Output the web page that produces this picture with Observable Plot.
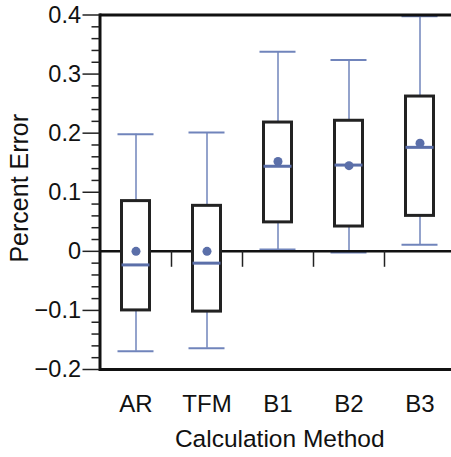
<!DOCTYPE html>
<html>
<head>
<meta charset="utf-8">
<script src="https://cdn.jsdelivr.net/npm/d3@7"></script>
<script src="https://cdn.jsdelivr.net/npm/@observablehq/plot@0.6"></script>
<style>
  html, body { margin: 0; padding: 0; background: #fff; }
  #chart { width: 451px; height: 457px; }
</style>
</head>
<body>
<div id="chart"></div>
<script>
// ---- data ----
const methods   = ["AR", "TFM", "B1", "B2", "B3"];
const whiskLow  = [-0.169, -0.164, 0.003, -0.002, 0.011];
const q1        = [-0.100, -0.102, 0.049, 0.042, 0.060];
const medians   = [-0.023, -0.020, 0.144, 0.146, 0.176];
const means     = [0.000, 0.000, 0.152, 0.145, 0.183];
const q3        = [0.085, 0.077, 0.218, 0.221, 0.262];
const whiskHigh = [0.198, 0.201, 0.338, 0.324, 0.398];

const yTicks      = [-0.2, -0.1, 0, 0.1, 0.2, 0.3, 0.4];
const yTickLabels = ["\u22120.2", "\u22120.1", "0", "0.1", "0.2", "0.3", "0.4"];
const yMinorTicks = [-0.18,-0.16,-0.14,-0.12,-0.08,-0.06,-0.04,-0.02,
                     0.02,0.04,0.06,0.08,0.12,0.14,0.16,0.18,
                     0.22,0.24,0.26,0.28,0.32,0.34,0.36,0.38];
const separators  = ["TFM", "B1", "B2", "B3"];
const xTitle = "Calculation Method";
const yTitle = "Percent Error";

const rows = methods.map((m, i) => ({
  method: m, lo: whiskLow[i], q1: q1[i], med: medians[i],
  mean: means[i], q3: q3[i], hi: whiskHigh[i]
}));

const blue = "#5b6fa9";
const whiskerBlue = "#7084bb";
const font = "'Liberation Sans', Arial, Helvetica, sans-serif";

const chart = Plot.plot({
  width: 451,
  height: 457,
  marginLeft: 99.5,
  marginRight: 0,
  marginTop: 14.5,
  marginBottom: 88,
  style: { fontFamily: font, background: "#fff", color: "#111" },
  x: { type: "band", domain: methods, range: [99.5, 454.5], padding: 0 },
  y: { domain: [-0.2, 0.4] },
  marks: [
    // whiskers
    Plot.ruleX(rows, { x: "method", y1: "lo", y2: "hi", stroke: whiskerBlue, strokeWidth: 1.5 }),
    Plot.tickY(rows, { x: "method", y: "lo", stroke: whiskerBlue, strokeWidth: 2, insetLeft: 17.5, insetRight: 17.5 }),
    Plot.tickY(rows, { x: "method", y: "hi", stroke: whiskerBlue, strokeWidth: 2, insetLeft: 17.5, insetRight: 17.5 }),
    // zero line with category separators
    Plot.ruleY([0], { stroke: "#111", strokeWidth: 2.5 }),
    Plot.ruleX(separators, { x: d => d, dx: -35.5, y1: 0, y2: -0.027, stroke: "#222", strokeWidth: 1.5 }),
    // boxes
    Plot.barY(rows, { x: "method", y1: "q1", y2: "q3", fill: "#fff", stroke: "#222", strokeWidth: 3, insetLeft: 21.5, insetRight: 21.5 }),
    Plot.tickY(rows, { x: "method", y: "med", stroke: blue, strokeWidth: 3, insetLeft: 21.5, insetRight: 21.5 }),
    Plot.dot(rows, { x: "method", y: "mean", r: 4.5, fill: blue, stroke: "none" }),
    // frame
    Plot.ruleY([-0.2, 0.4], { stroke: "#111", strokeWidth: 3 }),
    Plot.frame({ anchor: "left", stroke: "#111", strokeWidth: 3 }),
    // axes
    Plot.axisY({ ticks: yMinorTicks, tickSize: 8, tickFormat: () => "", strokeWidth: 1.5, stroke: "#222", label: null }),
    Plot.axisY({ ticks: yTicks, tickSize: 17, tickPadding: 2, tickFormat: (d) => yTickLabels[yTicks.indexOf(d)],
                 fontSize: 23.5, strokeWidth: 1.5, stroke: "#222", fill: "#111", label: null }),
    Plot.axisX({ tickSize: 0, tickPadding: 25, fontSize: 24, fill: "#111", label: null }),
    // axis titles
    Plot.text([yTitle], { text: d => d, frameAnchor: "left", dx: -80, dy: -4, rotate: -90,
                          fontSize: 25, fill: "#111", lineAnchor: "middle", textAnchor: "middle" }),
    Plot.text([xTitle], { text: d => d, frameAnchor: "bottom", dx: 4, dy: 70,
                          fontSize: 24.5, fill: "#111", lineAnchor: "middle", textAnchor: "middle" })
  ]
});
document.getElementById("chart").appendChild(chart);
</script>
</body>
</html>
